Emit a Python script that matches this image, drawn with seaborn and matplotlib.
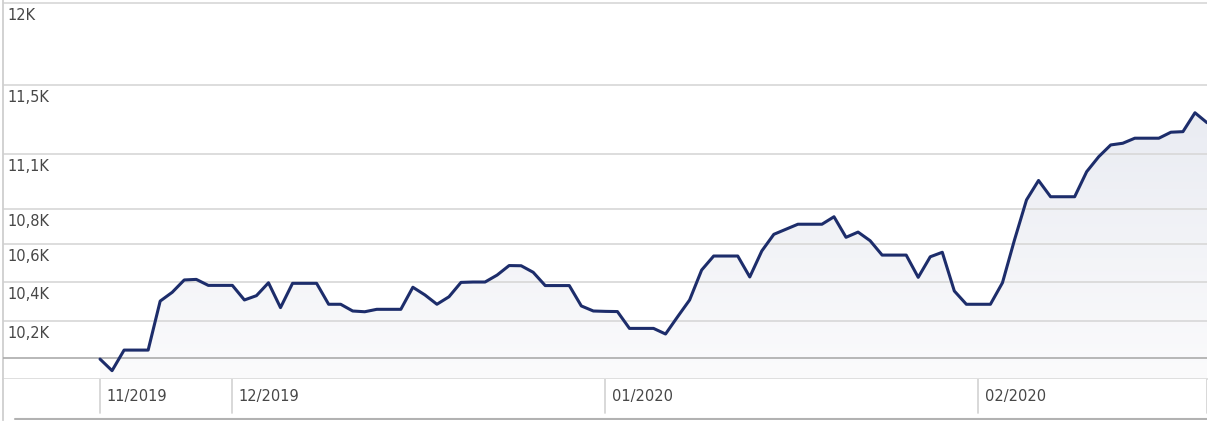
import numpy as np
import pandas as pd
import matplotlib
matplotlib.use("Agg")
import matplotlib.pyplot as plt
import matplotlib.dates as mdates
import seaborn as sns
from matplotlib.colors import LinearSegmentedColormap

# daily values, 20 Nov 2019 .. 20 Feb 2020
start_date = "2019-11-20"
end_date = "2020-02-20"
values = [
    9996, 9934, 10044, 10044, 10044, 10306, 10353, 10419, 10422, 10390,
    10390, 10390, 10312, 10335, 10404, 10271, 10401, 10401, 10401, 10289,
    10289, 10253, 10249, 10262, 10262, 10262, 10380, 10339, 10289, 10329,
    10406, 10408, 10408, 10445, 10496, 10495, 10460, 10389, 10389, 10389,
    10280, 10253, 10251, 10250, 10160, 10160, 10160, 10130, 10222, 10312,
    10472, 10547, 10547, 10547, 10435, 10574, 10663, 10690, 10717, 10717,
    10717, 10757, 10647, 10675, 10629, 10552, 10552, 10552, 10433, 10543,
    10567, 10360, 10289, 10289, 10289, 10404, 10633, 10847, 10951, 10864,
    10864, 10864, 10998, 11078, 11141, 11150, 11177, 11177, 11177, 11209,
    11212, 11313, 11260,
]

# horizontal grid lines and their labels
grid_values = [10000, 10201, 10410, 10611, 10800, 11093, 11462, 11900]
grid_labels = ["", "10,2K", "10,4K", "10,6K", "10,8K", "11,1K", "11,5K", "12K"]

# month separators on the x band
month_dates = ["2019-11-20", "2019-12-01", "2020-01-01", "2020-02-01"]
month_labels = ["11/2019", "12/2019", "01/2020", "02/2020"]

df = pd.DataFrame({"date": pd.date_range(start_date, end_date, freq="D"), "value": values})

sns.set_theme(style="white")
plt.rcParams["font.family"] = ["DejaVu Sans"]

W, H = 1209, 421
fig = plt.figure(figsize=(W / 100, H / 100), dpi=100)
ax = fig.add_axes([3 / W, (H - 378.7) / H, 1204 / W, 378.7 / H])
band = fig.add_axes([3 / W, 1 / H, 1204 / W, (420 - 378.7) / H])

line_color = "#1d2d6b"
text_color = "#474747"

sns.lineplot(data=df, x="date", y="value", ax=ax, color=line_color, linewidth=2.2, zorder=6)

ymin, ymax = 9891, 11916
x0 = mdates.date2num(df["date"].iloc[0]) - 97 / 12.03
x1 = mdates.date2num(df["date"].iloc[-1])

# gradient fill under the line
fill = ax.fill_between(df["date"], df["value"], ymin, color="none", linewidth=0)
cmap = LinearSegmentedColormap.from_list("fill", ["#fbfbfc", "#e2e5ee"])
grad = np.linspace(1, 0, 256).reshape(-1, 1)
im = ax.imshow(grad, cmap=cmap, aspect="auto", extent=[x0, x1, ymin, ymax],
               origin="upper", zorder=1)
im.set_clip_path(fill.get_paths()[0], transform=ax.transData)

for v, lab in zip(grid_values, grid_labels):
    if lab == "":
        ax.axhline(v, color="#ababab", lw=1.2, zorder=3)
    else:
        ax.axhline(v, color="#dadada", lw=1.3, zorder=2)
        ax.annotate(lab, xy=(0, v), xycoords=("axes fraction", "data"),
                    xytext=(3.5, -3.5), textcoords="offset points",
                    ha="left", va="top", fontsize=10.5, color=text_color)

ax.set_xlim(x0, x1)
ax.set_ylim(ymin, ymax)
ax.set_xticks([])
ax.set_yticks([])
ax.set_xlabel("")
ax.set_ylabel("")
for s in ["top", "right"]:
    ax.spines[s].set_visible(False)
ax.spines["left"].set_color("#cfcfcf")
ax.spines["left"].set_linewidth(1.3)
ax.spines["bottom"].set_color("#dcdcdc")
ax.spines["bottom"].set_linewidth(1.3)

# x band with month labels
band.set_xlim(x0, x1)
band.set_ylim(0, 1)
band.set_xticks([])
band.set_yticks([])
for s in ["top", "right", "bottom"]:
    band.spines[s].set_visible(False)
band.spines["left"].set_color("#cfcfcf")
band.spines["left"].set_linewidth(1.3)
for d, lab in zip(month_dates, month_labels):
    xd = mdates.date2num(pd.Timestamp(d))
    band.axvline(xd, ymin=0.17, ymax=1, color="#d6d6d6", lw=1.3)
    band.annotate(lab, xy=(xd, 0.58), xycoords="data", xytext=(4.5, 0),
                  textcoords="offset points", ha="left", va="center",
                  fontsize=10.5, color=text_color)
band.axvline(x1, ymin=0.17, ymax=1, color="#d6d6d6", lw=1.3)
band.axhline(0.02, xmin=12 / 1204, color="#b2b2b2", lw=1.5)

fig.savefig("out.png", dpi=100)
